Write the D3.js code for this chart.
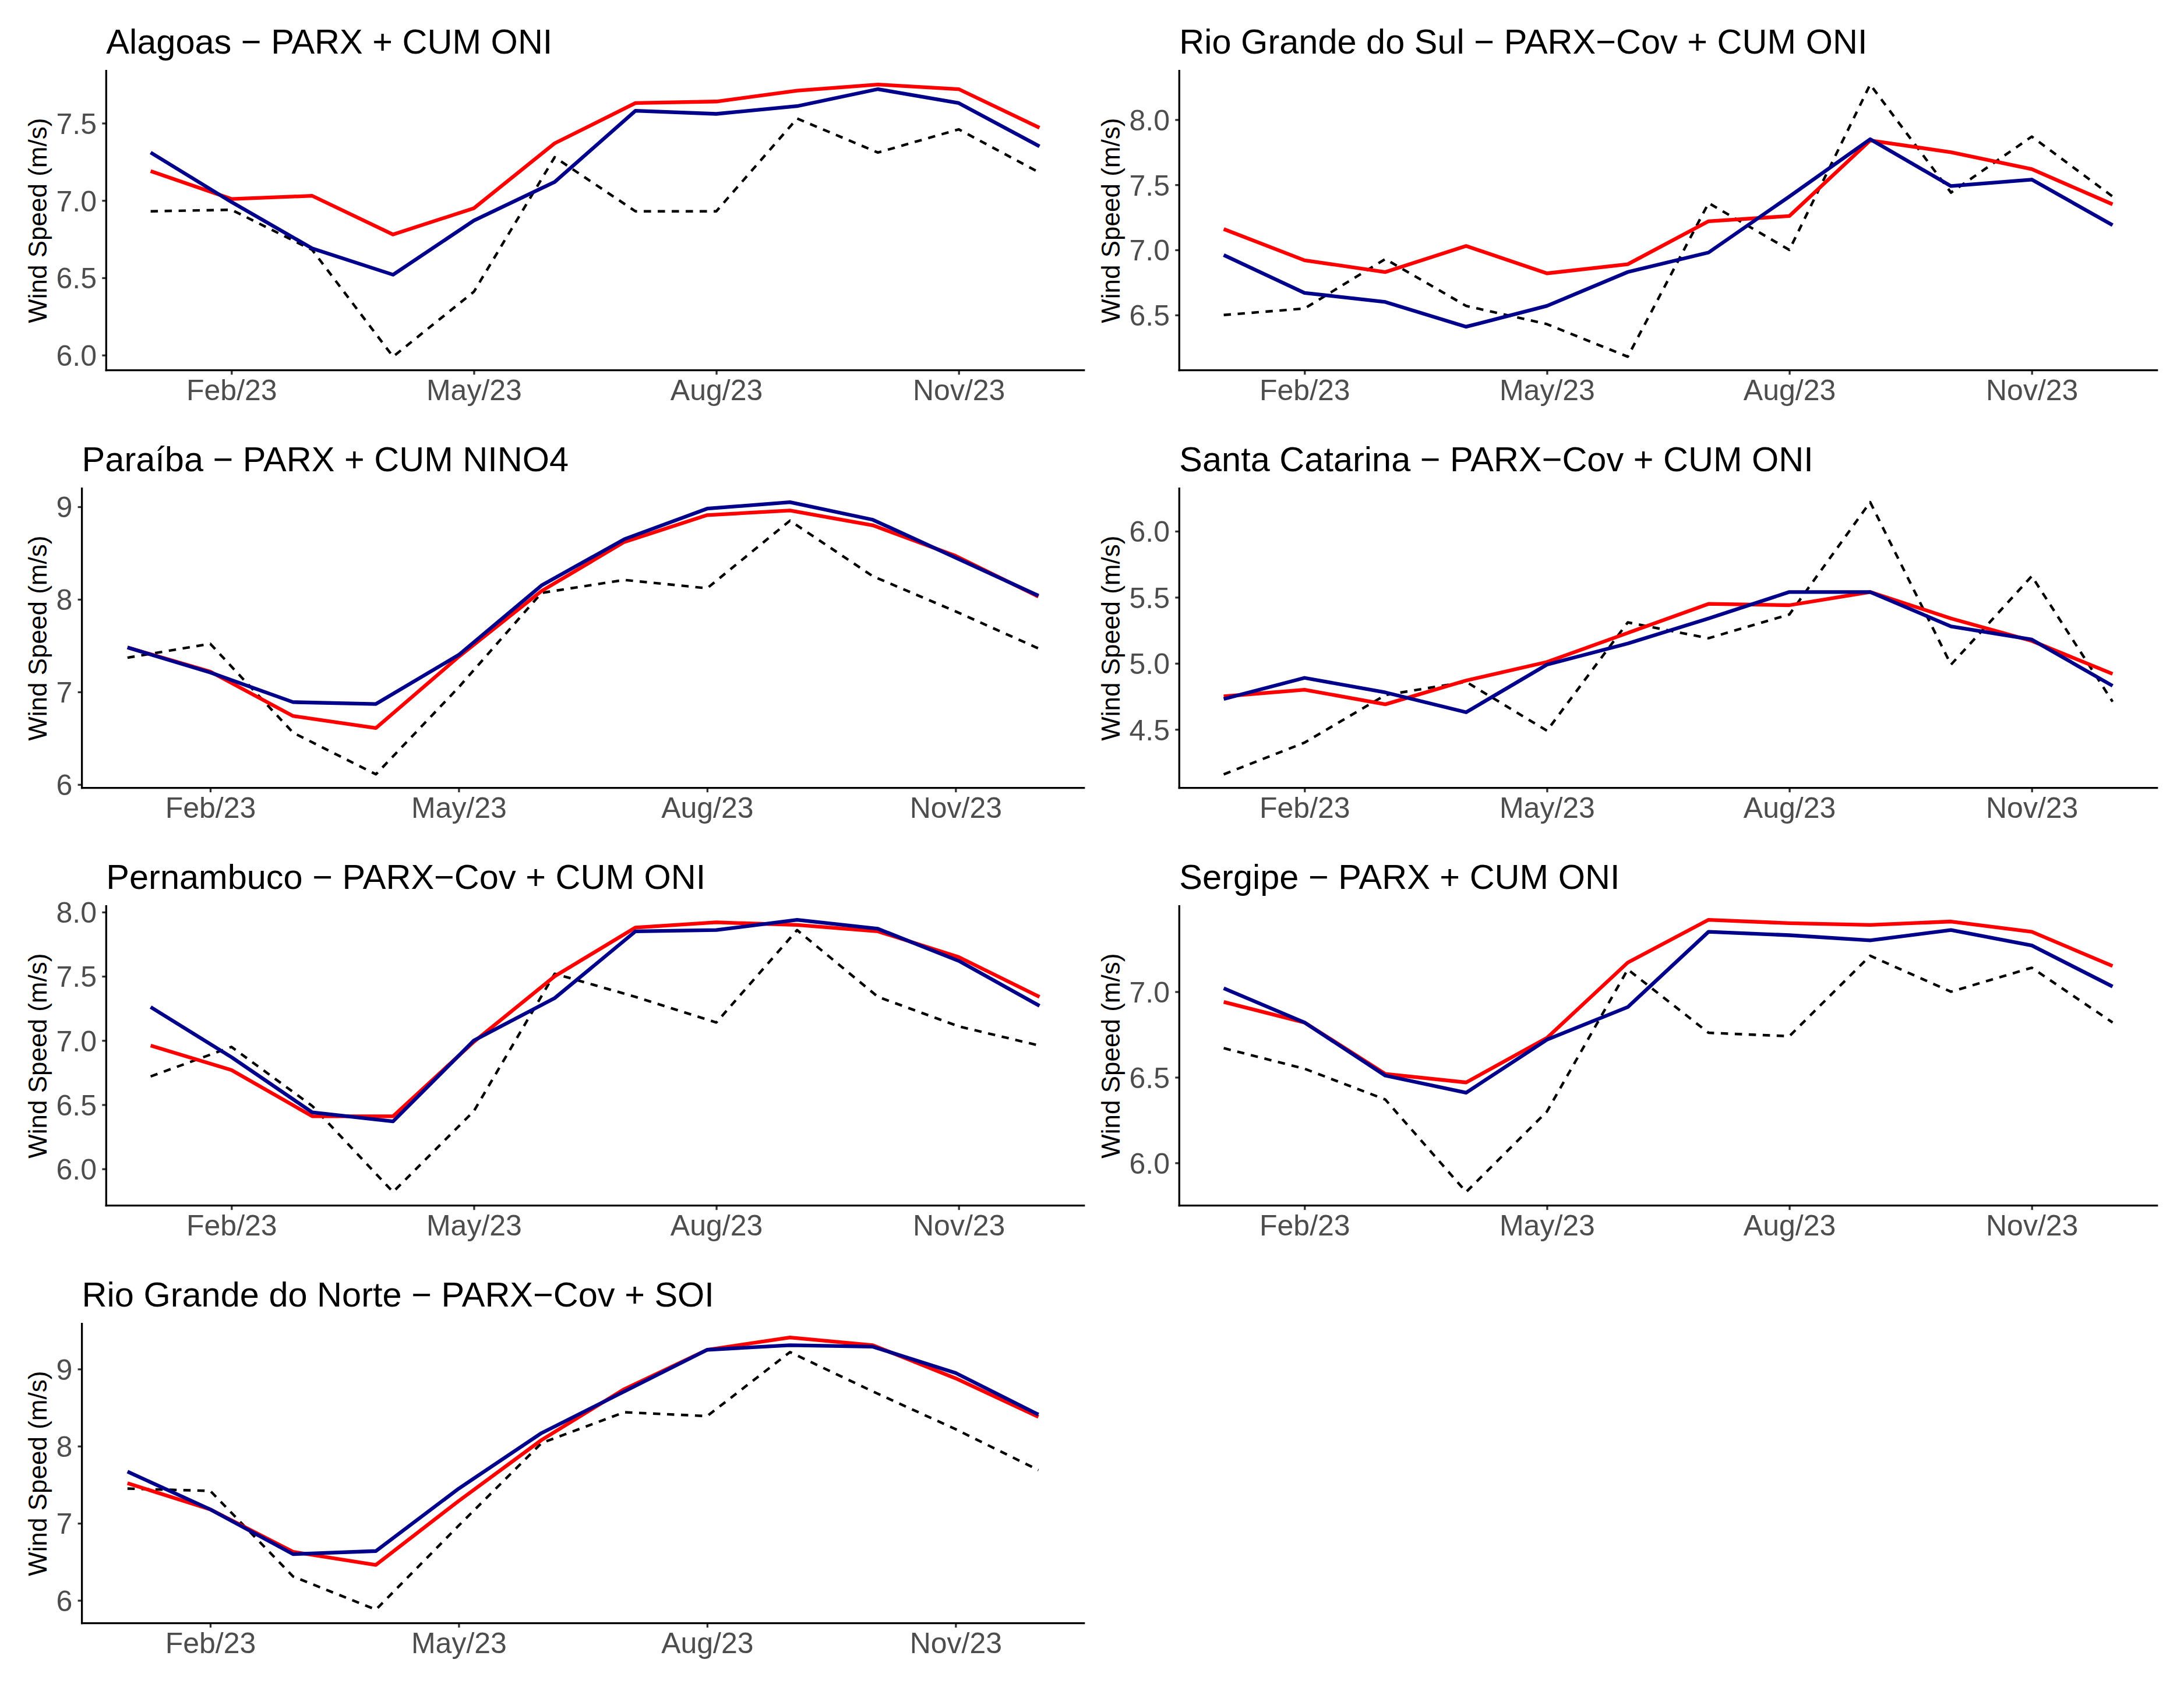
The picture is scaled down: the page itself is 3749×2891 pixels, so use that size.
<!DOCTYPE html>
<html>
<head>
<meta charset="utf-8">
<script src="https://cdn.jsdelivr.net/npm/d3@7"></script>
<style>
  html, body { margin: 0; padding: 0; background: #ffffff; }
  svg { display: block; }
</style>
</head>
<body>
<script>
// ---------------- DATA ----------------
const months = ["Jan","Feb","Mar","Apr","May","Jun","Jul","Aug","Sep","Oct","Nov","Dec"];
const xTickMonths = ["Feb","May","Aug","Nov"];
const xTickLabels = ["Feb/23","May/23","Aug/23","Nov/23"];

const states = ["Alagoas","Rio Grande do Sul","Paraíba","Santa Catarina","Pernambuco","Sergipe","Rio Grande do Norte"];
const titles = [
  "Alagoas − PARX + CUM ONI",
  "Rio Grande do Sul − PARX−Cov + CUM ONI",
  "Paraíba − PARX + CUM NINO4",
  "Santa Catarina − PARX−Cov + CUM ONI",
  "Pernambuco − PARX−Cov + CUM ONI",
  "Sergipe − PARX + CUM ONI",
  "Rio Grande do Norte − PARX−Cov + SOI"
];

// observed (black dashed)
const observedAlagoas   = [6.93, 6.94, 6.68, 5.99, 6.41, 7.28, 6.93, 6.93, 7.53, 7.31, 7.46, 7.18];
const observedRGS       = [6.50, 6.55, 6.93, 6.57, 6.43, 6.18, 7.36, 7.00, 8.27, 7.44, 7.87, 7.41];
const observedParaiba   = [7.37, 7.52, 6.56, 6.11, 7.05, 8.07, 8.21, 8.12, 8.85, 8.25, 7.87, 7.47];
const observedSC        = [4.16, 4.40, 4.76, 4.86, 4.49, 5.31, 5.19, 5.37, 6.22, 4.99, 5.66, 4.71];
const observedPernamb   = [6.72, 6.95, 6.49, 5.82, 6.45, 7.52, 7.34, 7.14, 7.86, 7.34, 7.11, 6.96];
const observedSergipe   = [6.67, 6.55, 6.37, 5.83, 6.30, 7.13, 6.76, 6.74, 7.21, 7.00, 7.14, 6.82];
const observedRGN       = [7.45, 7.42, 6.31, 5.88, 6.97, 8.04, 8.44, 8.39, 9.22, 8.71, 8.22, 7.69];

// red series
const redAlagoas   = [7.19, 7.01, 7.03, 6.78, 6.95, 7.37, 7.63, 7.64, 7.71, 7.75, 7.72, 7.47];
const redRGS       = [7.16, 6.92, 6.83, 7.03, 6.82, 6.89, 7.22, 7.26, 7.84, 7.75, 7.62, 7.35];
const redParaiba   = [7.48, 7.22, 6.74, 6.61, 7.38, 8.09, 8.62, 8.91, 8.96, 8.80, 8.47, 8.03];
const redSC        = [4.75, 4.80, 4.69, 4.87, 5.01, 5.23, 5.45, 5.44, 5.54, 5.34, 5.17, 4.92];
const redPernamb   = [6.96, 6.77, 6.41, 6.41, 6.99, 7.50, 7.88, 7.92, 7.90, 7.85, 7.65, 7.34];
const redSergipe   = [6.94, 6.82, 6.52, 6.47, 6.73, 7.17, 7.42, 7.40, 7.39, 7.41, 7.35, 7.15];
const redRGN       = [7.52, 7.18, 6.63, 6.46, 7.29, 8.08, 8.74, 9.25, 9.41, 9.31, 8.88, 8.38];

// blue series
const blueAlagoas  = [7.31, 6.99, 6.69, 6.52, 6.87, 7.12, 7.58, 7.56, 7.61, 7.72, 7.63, 7.35];
const blueRGS      = [6.96, 6.67, 6.60, 6.41, 6.57, 6.83, 6.98, 7.41, 7.85, 7.49, 7.54, 7.19];
const blueParaiba  = [7.48, 7.21, 6.89, 6.87, 7.40, 8.15, 8.65, 8.98, 9.05, 8.86, 8.45, 8.04];
const blueSC       = [4.73, 4.89, 4.78, 4.63, 4.99, 5.15, 5.34, 5.54, 5.54, 5.28, 5.18, 4.83];
const bluePernamb  = [7.26, 6.87, 6.44, 6.37, 7.00, 7.33, 7.85, 7.86, 7.94, 7.87, 7.62, 7.27];
const blueSergipe  = [7.02, 6.82, 6.51, 6.41, 6.72, 6.91, 7.35, 7.33, 7.30, 7.36, 7.27, 7.03];
const blueRGN      = [7.67, 7.18, 6.60, 6.64, 7.45, 8.17, 8.71, 9.25, 9.31, 9.29, 8.95, 8.41];

// y tick labels per panel
const yTicksAlagoas  = ["6.0","6.5","7.0","7.5"];
const yTicksRGS      = ["6.5","7.0","7.5","8.0"];
const yTicksParaiba  = ["6","7","8","9"];
const yTicksSC       = ["4.5","5.0","5.5","6.0"];
const yTicksPernamb  = ["6.0","6.5","7.0","7.5","8.0"];
const yTicksSergipe  = ["6.0","6.5","7.0"];
const yTicksRGN      = ["6","7","8","9"];

const yAxisTitle = "Wind Speed (m/s)";

// table built from the arrays
const panels = [
  {state: states[0], title: titles[0], obs: observedAlagoas, red: redAlagoas, blue: blueAlagoas, ticks: yTicksAlagoas, row: 0, col: 0},
  {state: states[1], title: titles[1], obs: observedRGS,     red: redRGS,     blue: blueRGS,     ticks: yTicksRGS,     row: 0, col: 1},
  {state: states[2], title: titles[2], obs: observedParaiba, red: redParaiba, blue: blueParaiba, ticks: yTicksParaiba, row: 1, col: 0},
  {state: states[3], title: titles[3], obs: observedSC,      red: redSC,      blue: blueSC,      ticks: yTicksSC,      row: 1, col: 1},
  {state: states[4], title: titles[4], obs: observedPernamb, red: redPernamb, blue: bluePernamb, ticks: yTicksPernamb, row: 2, col: 0},
  {state: states[5], title: titles[5], obs: observedSergipe, red: redSergipe, blue: blueSergipe, ticks: yTicksSergipe, row: 2, col: 1},
  {state: states[6], title: titles[6], obs: observedRGN,     red: redRGN,     blue: blueRGN,     ticks: yTicksRGN,     row: 3, col: 0}
];

// ---------------- LAYOUT / STYLE ----------------
const W = 3749, H = 2891;
const FONT = "'Liberation Sans', Arial, Helvetica, sans-serif";
const colX = [0, 1842];
const rowStep = 717;
const axisY0 = 635.7;
const panelH = 514;
const axisRightOff = 1860.7;
const tickFont = 50, titleFont = 59.5, axisTitleFont = 44;
const tickColor = "#4D4D4D";

const svg = d3.select("body").append("svg")
  .attr("width", W).attr("height", H)
  .attr("viewBox", `0 0 ${W} ${H}`);
svg.append("rect").attr("width", W).attr("height", H).attr("fill", "#ffffff");

// text measuring helper
const measurer = svg.append("text")
  .attr("font-family", FONT).attr("font-size", tickFont)
  .attr("visibility", "hidden");
function textW(s) { measurer.text(s); return measurer.node().getComputedTextLength(); }

panels.forEach(p => {
  const cx = colX[p.col];
  const axisY = axisY0 + rowStep * p.row;
  const top = axisY - panelH;
  const maxLab = d3.max(p.ticks, t => textW(t));
  const left = cx + 96.5 + maxLab + 16.3;
  const right = cx + axisRightOff;

  const g = svg.append("g");

  // scales (ggplot-like 5% expansion)
  const all = p.obs.concat(p.red, p.blue);
  const [mn, mx] = d3.extent(all);
  const pad = (mx - mn) * 0.05;
  const y = d3.scaleLinear().domain([mn - pad, mx + pad]).range([axisY, top]);
  const x = d3.scaleLinear().domain([-0.55, months.length - 1 + 0.55]).range([left, right]);

  const line = d3.line().x((d, i) => x(i)).y(d => y(d));

  // series
  g.append("path").datum(p.obs)
    .attr("d", line).attr("fill", "none")
    .attr("stroke", "#000000").attr("stroke-width", 4.4)
    .attr("stroke-dasharray", "12.5,11.5")
    .attr("stroke-linejoin", "round").attr("stroke-linecap", "butt");
  g.append("path").datum(p.red)
    .attr("d", line).attr("fill", "none")
    .attr("stroke", "#FF0000").attr("stroke-width", 6.3)
    .attr("stroke-linejoin", "round").attr("stroke-linecap", "butt");
  g.append("path").datum(p.blue)
    .attr("d", line).attr("fill", "none")
    .attr("stroke", "#00008B").attr("stroke-width", 6.3)
    .attr("stroke-linejoin", "round").attr("stroke-linecap", "butt");

  // x axis
  const xTickIdx = xTickMonths.map(m => months.indexOf(m));
  const xAxis = d3.axisBottom(x)
    .tickValues(xTickIdx)
    .tickFormat((d, i) => xTickLabels[i])
    .tickSize(7.5).tickPadding(0).tickSizeOuter(0);
  const gx = g.append("g").attr("transform", `translate(0,${axisY})`).call(xAxis);
  gx.select(".domain").remove();
  gx.selectAll(".tick line").attr("stroke", "#333333").attr("stroke-width", 3.3);
  gx.selectAll(".tick text")
    .attr("y", 51).attr("dy", null)
    .attr("font-family", FONT).attr("font-size", tickFont)
    .attr("fill", tickColor).attr("text-anchor", "middle");

  // y axis
  const yVals = p.ticks.map(Number);
  const yAxis = d3.axisLeft(y)
    .tickValues(yVals)
    .tickFormat((d, i) => p.ticks[i])
    .tickSize(7).tickPadding(0).tickSizeOuter(0);
  const gy = g.append("g").attr("transform", `translate(${left},0)`).call(yAxis);
  gy.select(".domain").remove();
  gy.selectAll(".tick line").attr("stroke", "#333333").attr("stroke-width", 3.3);
  gy.selectAll(".tick text")
    .attr("x", -16.3).attr("dy", "0.358em")
    .attr("font-family", FONT).attr("font-size", tickFont)
    .attr("fill", tickColor).attr("text-anchor", "end");

  // axis lines
  g.append("line")
    .attr("x1", left).attr("x2", right).attr("y1", axisY).attr("y2", axisY)
    .attr("stroke", "#000000").attr("stroke-width", 3.3).attr("stroke-linecap", "square");
  g.append("line")
    .attr("x1", left).attr("x2", left).attr("y1", top).attr("y2", axisY)
    .attr("stroke", "#000000").attr("stroke-width", 3.3).attr("stroke-linecap", "square");

  // axis title
  g.append("text")
    .attr("transform", `translate(${cx + 80},${(top + axisY) / 2}) rotate(-90)`)
    .attr("text-anchor", "middle")
    .attr("font-family", FONT).attr("font-size", axisTitleFont)
    .attr("fill", "#000000")
    .text(yAxisTitle);

  // plot title
  g.append("text")
    .attr("x", left).attr("y", top - 30)
    .attr("font-family", FONT).attr("font-size", titleFont)
    .attr("fill", "#000000")
    .text(p.title);
});
measurer.remove();
</script>
</body>
</html>
